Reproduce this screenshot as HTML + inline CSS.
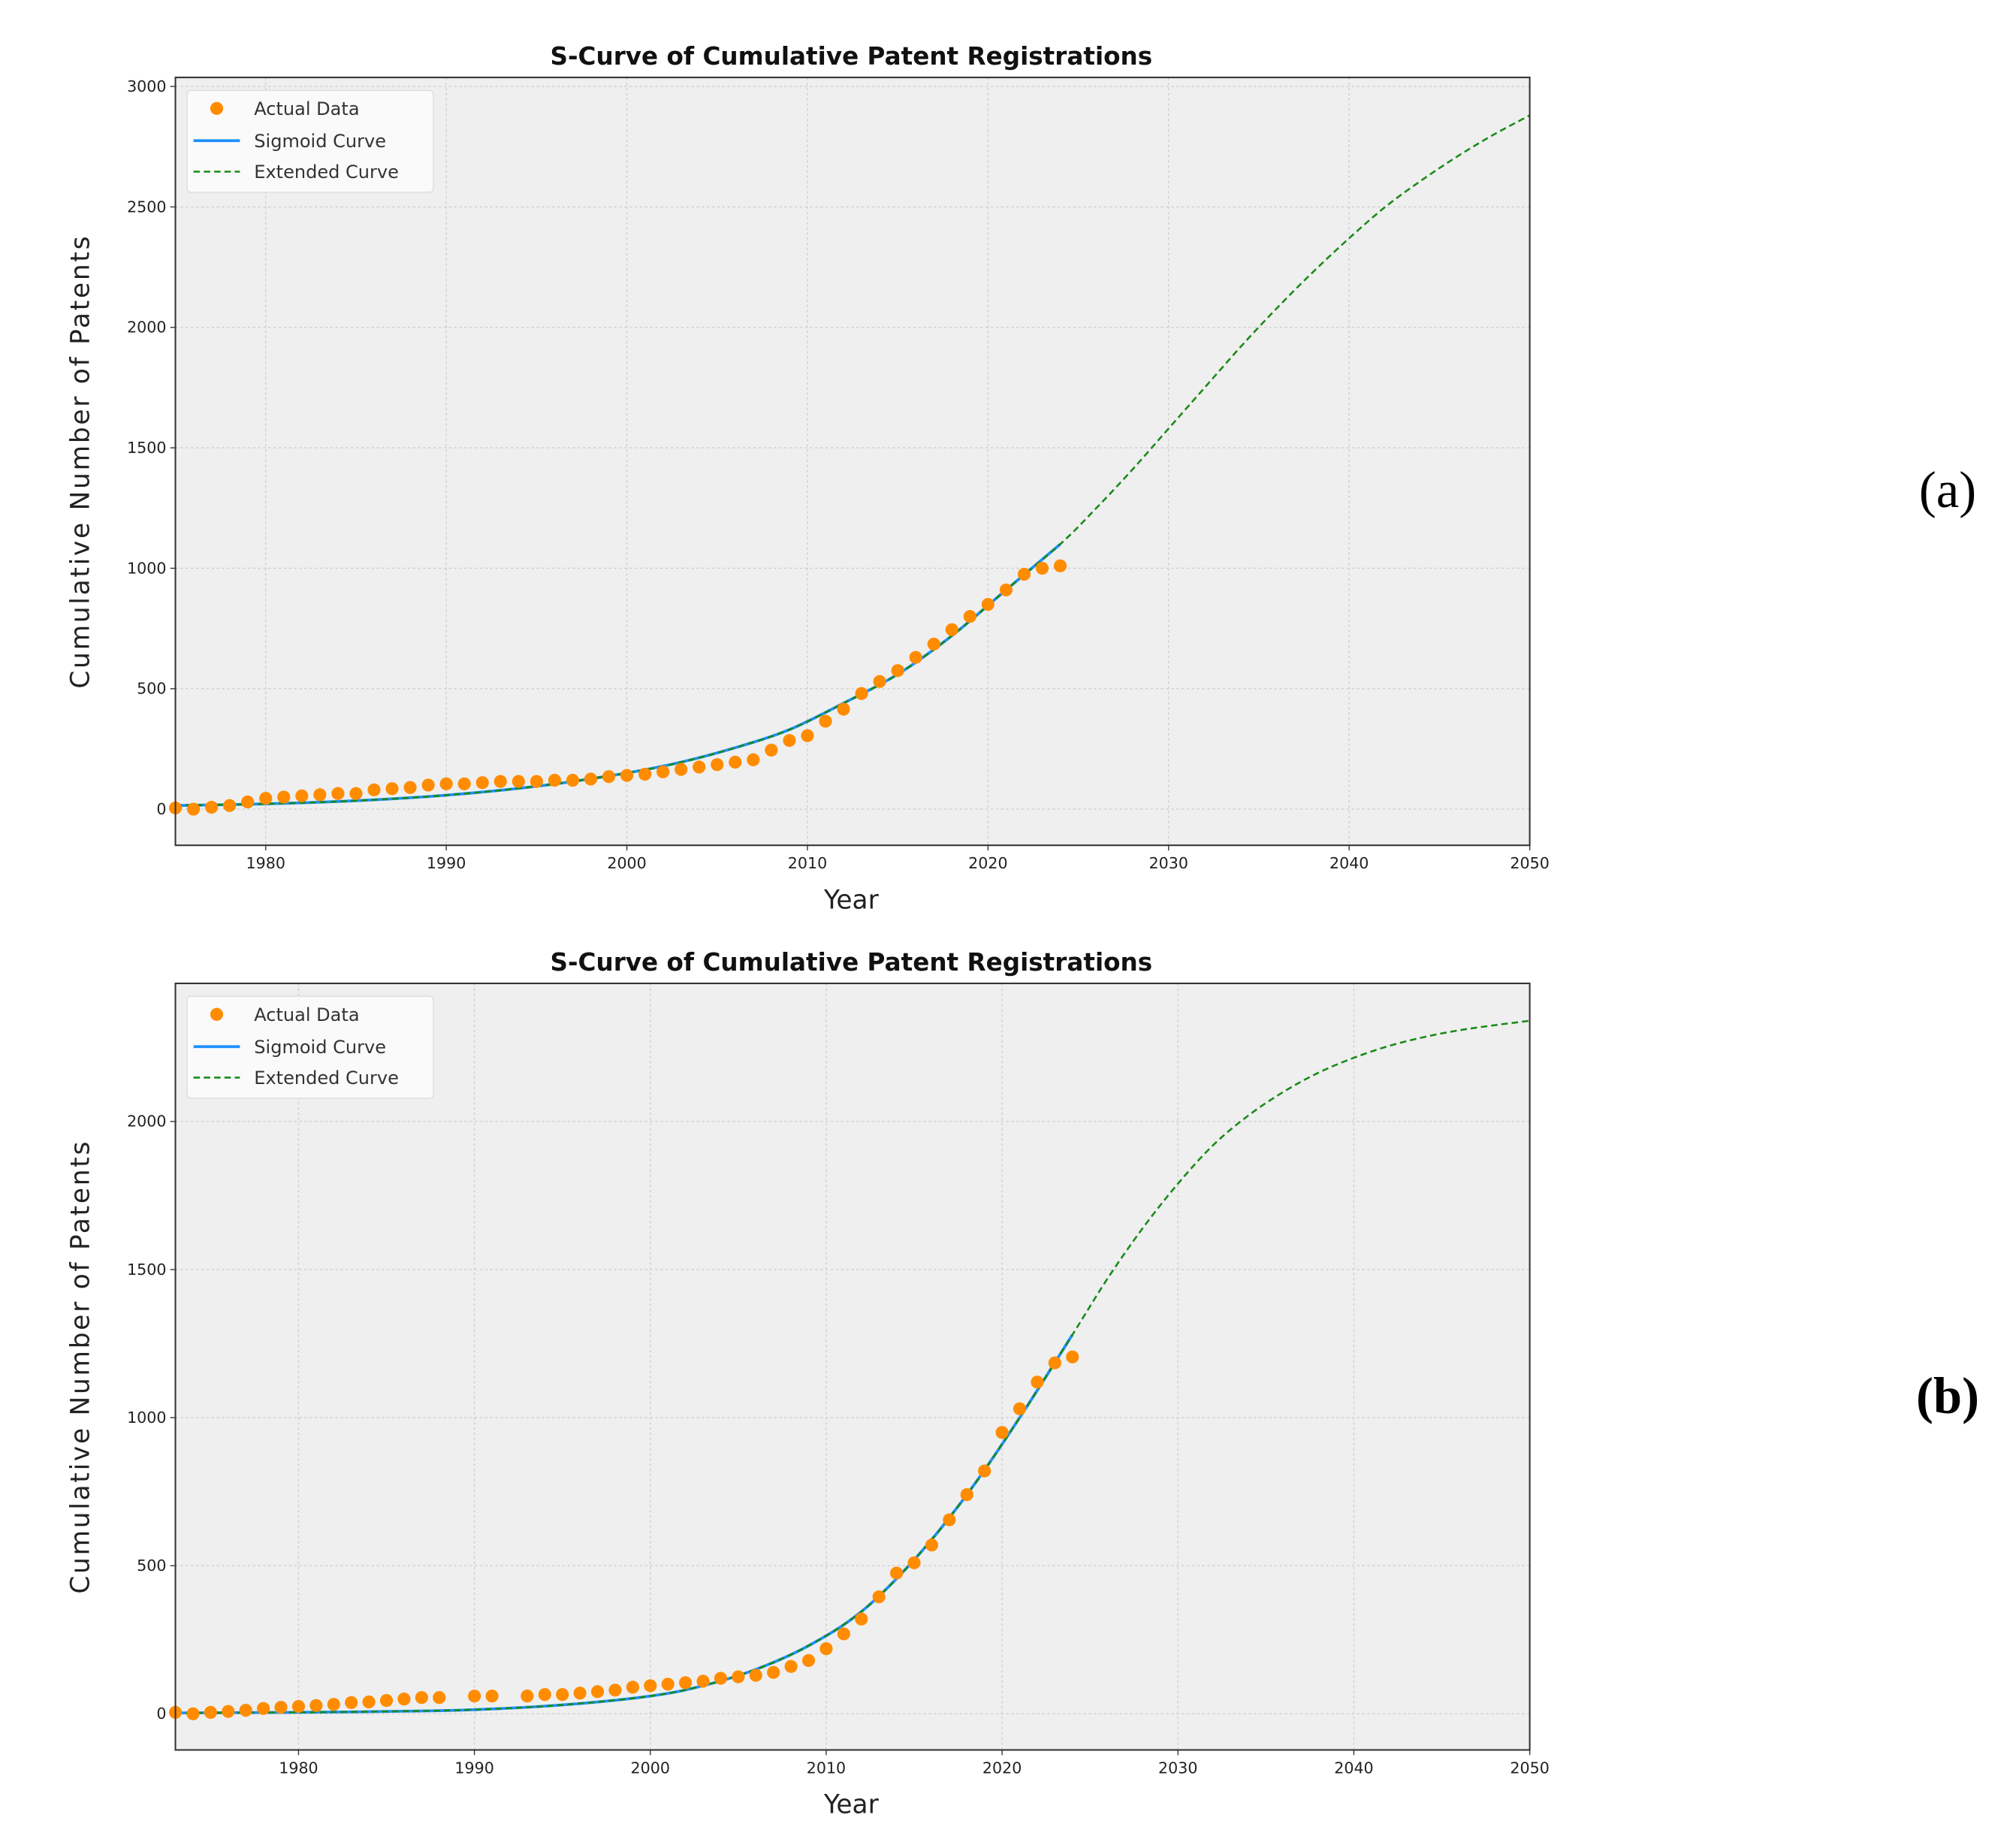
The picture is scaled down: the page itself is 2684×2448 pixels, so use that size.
<!DOCTYPE html>
<html><head><meta charset="utf-8"><style>
html,body{margin:0;padding:0;background:#fff;}
svg{display:block;}
</style></head><body>
<svg id="fig" width="2684" height="2448" viewBox="0 0 1563 1425" preserveAspectRatio="none" xmlns="http://www.w3.org/2000/svg" font-family="DejaVu Sans, Liberation Sans, sans-serif"></svg>
<script>
// ---- Panel (a) data ----
const yearsA = [1975,1976,1977,1978,1979,1980,1981,1982,1983,1984,1985,1986,1987,1988,1989,1990,1991,1992,1993,1994,1995,1996,1997,1998,1999,2000,2001,2002,2003,2004,2005,2006,2007,2008,2009,2010,2011,2012,2013,2014,2015,2016,2017,2018,2019,2020,2021,2022,2023,2024];
const valuesA = [5,0,8,15,30,45,50,55,60,65,65,80,85,90,100,105,105,110,115,115,115,120,120,125,135,140,145,155,165,175,185,195,205,245,285,305,365,415,480,530,575,630,685,745,800,850,910,975,1000,1010];
const sigYearsA = [1975,1980,1985,1990,1995,2000,2003,2006,2009,2012,2015,2018,2021,2024];
const sigValuesA = [15,22,35,58,95,150,195,255,330,440,560,720,910,1100];
const extYearsA = [2024,2026,2028,2030,2032,2034,2036,2038,2040,2042,2044,2046,2048,2050];
const extValuesA = [1100,1250,1410,1580,1750,1920,2080,2230,2370,2500,2610,2710,2800,2880];
const yTicksA = [0,500,1000,1500,2000,2500,3000];
// ---- Panel (b) data ----
const yearsB = [1973,1974,1975,1976,1977,1978,1979,1980,1981,1982,1983,1984,1985,1986,1987,1988,1990,1991,1993,1994,1995,1996,1997,1998,1999,2000,2001,2002,2003,2004,2005,2006,2007,2008,2009,2010,2011,2012,2013,2014,2015,2016,2017,2018,2019,2020,2021,2022,2023,2024];
const valuesB = [5,0,5,8,12,18,22,25,28,32,38,40,45,50,55,55,60,60,60,65,65,70,75,80,90,95,100,105,110,120,125,130,140,160,180,220,270,320,395,475,510,570,655,740,820,950,1030,1120,1185,1205];
const sigYearsB = [1973,1980,1985,1990,1995,2000,2003,2006,2009,2012,2015,2018,2021,2024];
const sigValuesB = [3,5,8,14,30,60,95,150,230,345,520,740,1000,1280];
const extYearsB = [2024,2026,2028,2030,2032,2034,2036,2038,2040,2042,2044,2046,2048,2050];
const extValuesB = [1280,1470,1640,1790,1920,2020,2100,2165,2215,2255,2285,2308,2325,2340];
const yTicksB = [0,500,1000,1500,2000];
const xTicks = [1980,1990,2000,2010,2020,2030,2040,2050];

const NS="http://www.w3.org/2000/svg";
const svg=document.getElementById('fig');
function mk(tag,attrs,parent){const e=document.createElementNS(NS,tag);for(const k in attrs)e.setAttribute(k,attrs[k]);(parent||svg).appendChild(e);return e;}
function smooth(pts){let d='M'+pts[0][0]+','+pts[0][1];for(let i=0;i<pts.length-1;i++){const p0=pts[Math.max(0,i-1)],p1=pts[i],p2=pts[i+1],p3=pts[Math.min(pts.length-1,i+2)];const c1=[p1[0]+(p2[0]-p0[0])/6,p1[1]+(p2[1]-p0[1])/6],c2=[p2[0]-(p3[0]-p1[0])/6,p2[1]-(p3[1]-p1[1])/6];d+=' C'+c1[0]+','+c1[1]+' '+c2[0]+','+c2[1]+' '+p2[0]+','+p2[1];}return d;}

function panel(cfg){
  const g=mk('g',{});
  
  
  const L=136,R=1186,T=cfg.top,B=cfg.bottom;
  const xs=v=>L+(v-cfg.xmin)/(2050-cfg.xmin)*(R-L);
  const ys=v=>cfg.y0+(cfg.y1-cfg.y0)*(v/cfg.yref);
  const bg=mk('rect',{x:L,y:T,width:R-L,height:B-T,fill:'#efefef'},g);
  
  
  xTicks.forEach(t=>{const x=xs(t);
    mk('line',{x1:x,x2:x,y1:T,y2:B,stroke:'#cfcfcf','stroke-width':0.8,'stroke-dasharray':'2,2'},g);
    mk('line',{x1:x,x2:x,y1:B,y2:B+4,stroke:'#333','stroke-width':0.8},g);
    const tl=mk('text',{x:x,y:B+18,'font-size':12,'text-anchor':'middle',fill:'#222'},g);tl.textContent=t;
    
    
  });
  cfg.yticks.forEach(t=>{const y=ys(t);
    mk('line',{x1:L,x2:R,y1:y,y2:y,stroke:'#cfcfcf','stroke-width':0.8,'stroke-dasharray':'2,2'},g);
    mk('line',{x1:L-4,x2:L,y1:y,y2:y,stroke:'#333','stroke-width':0.8},g);
    const tl=mk('text',{x:L-7,y:y+4,'font-size':12,'text-anchor':'end',fill:'#222'},g);tl.textContent=t;
    
    
  });
  const sig=mk('path',{d:smooth(cfg.sy.map((y,i)=>[xs(y),ys(cfg.sv[i])])),fill:'none',stroke:'#1e90ff','stroke-width':2.2},g);
  
  
  const full=cfg.sy.slice(0,-1).concat(cfg.ey), fullv=cfg.sv.slice(0,-1).concat(cfg.ev);
  const ext=mk('path',{d:smooth(full.map((y,i)=>[xs(y),ys(fullv[i])])),fill:'none',stroke:'#1a8a1a','stroke-width':1.5,'stroke-dasharray':'5,3'},g);
  
  
  cfg.px.forEach((yr,i)=>{const c=mk('circle',{cx:xs(yr),cy:ys(cfg.pv[i]),r:5,fill:'#ff8c00'},g);
    
    
  });
  mk('rect',{x:L,y:T,width:R-L,height:B-T,fill:'none',stroke:'#333','stroke-width':1.2},g);
  const lg=mk('g',{},g);
  
  
  mk('rect',{x:145,y:T+10,width:191,height:79,rx:3,fill:'#fafafa',stroke:'#dddddd','stroke-width':0.8},lg);
  mk('circle',{cx:168,cy:T+24,r:5,fill:'#ff8c00'},lg);
  mk('line',{x1:150,x2:186,y1:T+49,y2:T+49,stroke:'#1e90ff','stroke-width':2.2},lg);
  mk('line',{x1:150,x2:186,y1:T+73,y2:T+73,stroke:'#1a8a1a','stroke-width':1.5,'stroke-dasharray':'5,3'},lg);
  [['Actual Data',T+29],['Sigmoid Curve',T+54],['Extended Curve',T+78]].forEach(a=>{
    const t=mk('text',{x:197,y:a[1],'font-size':14,fill:'#333'},lg);t.textContent=a[0];
    
    
  });
  const ti=mk('text',{x:660,y:T-10,'font-size':19,'font-weight':'bold','text-anchor':'middle',fill:'#111'},g);ti.textContent='S-Curve of Cumulative Patent Registrations';
  
  
  const xl=mk('text',{x:660,y:B+49,'font-size':20,'text-anchor':'middle',fill:'#222'},g);xl.textContent='Year';
  
  
  const cy=(T+B)/2;
  const yl=mk('text',{x:69,y:cy,'font-size':20,'letter-spacing':'1.6','text-anchor':'middle',fill:'#222',transform:'rotate(-90 69 '+cy+')'},g);yl.textContent='Cumulative Number of Patents';
  
  
  const pl=mk('text',{x:1510,y:cfg.lblY,'font-size':40,'text-anchor':'middle',fill:'#000',style:'font-family:"Liberation Serif",serif;font-weight:'+(cfg.bold?'bold':'normal')},g);pl.textContent=cfg.lbl;
  
  
}
panel({name:'panel-a',top:60,bottom:655,xmin:1975,y0:627,y1:67,yref:3000,yticks:yTicksA,px:yearsA,pv:valuesA,sy:sigYearsA,sv:sigValuesA,ey:extYearsA,ev:extValuesA,lbl:'(a)',lblY:393});
panel({name:'panel-b',top:762,bottom:1356,xmin:1973,y0:1328,y1:869,yref:2000,yticks:yTicksB,px:yearsB,pv:valuesB,sy:sigYearsB,sv:sigValuesB,ey:extYearsB,ev:extValuesB,lbl:'(b)',lblY:1095,bold:true});
</script>
</body></html>
